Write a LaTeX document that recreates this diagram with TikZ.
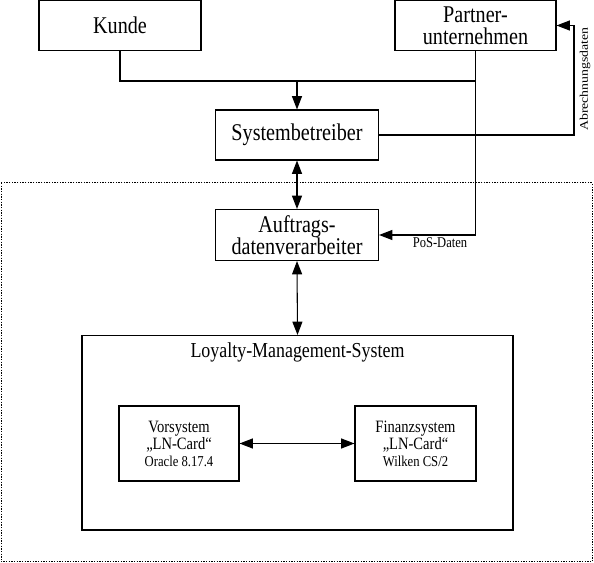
\documentclass[tikz,border=0pt]{standalone}
\usepackage{fontspec}
\setmainfont{Liberation Serif}[FakeStretch=0.84]
\newfontfamily\rotfont{Liberation Serif}[FakeStretch=1.19]
\usetikzlibrary{arrows.meta, positioning, calc}

\newcommand\verfont{\fontsize{11.3}{10.5}\selectfont}

\begin{document}
\begin{tikzpicture}[x=0.75pt, y=-0.75pt, line width=0.8pt,
  >={Triangle[length=10pt, width=7.5pt]},
  box/.style={draw, inner sep=0pt, align=center, minimum height=37.5pt,
    font=\fontsize{18}{16.5}\selectfont},
  subbox/.style={draw, inner sep=0pt, align=center, minimum height=56.25pt,
    font=\fontsize{13}{12.75}\selectfont},
  lbl/.style={font=\fontsize{11.2}{12}\selectfont}]
\useasboundingbox (0,0) rectangle (594,563);

% dotted frame
\draw[line width=0.75pt, dash pattern=on 1pt off 1pt] (1,183) rectangle (592,562);

% parties
\node[box, minimum width=121.5pt] (kunde) at (120,25.5) {Kunde};
\node[box, minimum width=120.75pt] (partner) at (475.5,25.5) {Partner-\\unternehmen};
\node[box, minimum width=122.25pt] (sys) at (297,135) {Systembetreiber};
\node[box, minimum width=122.25pt, minimum height=38.25pt] (auftrag) at (297,235) {Auftrags-\\datenverarbeiter};

% loyalty management system
\node[draw, minimum width=323.25pt, minimum height=145.9pt] (lms) at (297.5,432.75) {};
\node[font=\fontsize{16}{17}\selectfont] (lmstitle) at (297.5,352) {Loyalty-Management-System};
\node[subbox, minimum width=90pt] (vor) at (179,443.5) {Vorsystem\\„LN-Card“\\{\verfont Oracle 8.17.4}};
\node[subbox, minimum width=90.75pt] (fin) at (415.5,443.5) {Finanzsystem\\„LN-Card“\\{\verfont Wilken CS/2}};

% data flows
\coordinate (join) at (297,81);
\draw (kunde.south) |- (partner.south |- join);
\draw[->] (join) -- (sys.north);
\draw[->] (partner.south) |- (auftrag.east);
\node[lbl] (posdaten) at (440,243) {PoS-Daten};

\coordinate (abr) at (574,25.5);
\draw[->] (sys.east) -| (abr) -- (partner.east);
\node[rotate=90, font=\rotfont\fontsize{8.7}{10}\selectfont] (abrlabel) at (585,79) {Abrechnungsdaten};

\draw[<->] (sys.south) -- (auftrag.north);
\draw[<->] (auftrag.south) -- (lms.north);
\draw[<->] (vor) -- (fin);
\end{tikzpicture}
\end{document}
